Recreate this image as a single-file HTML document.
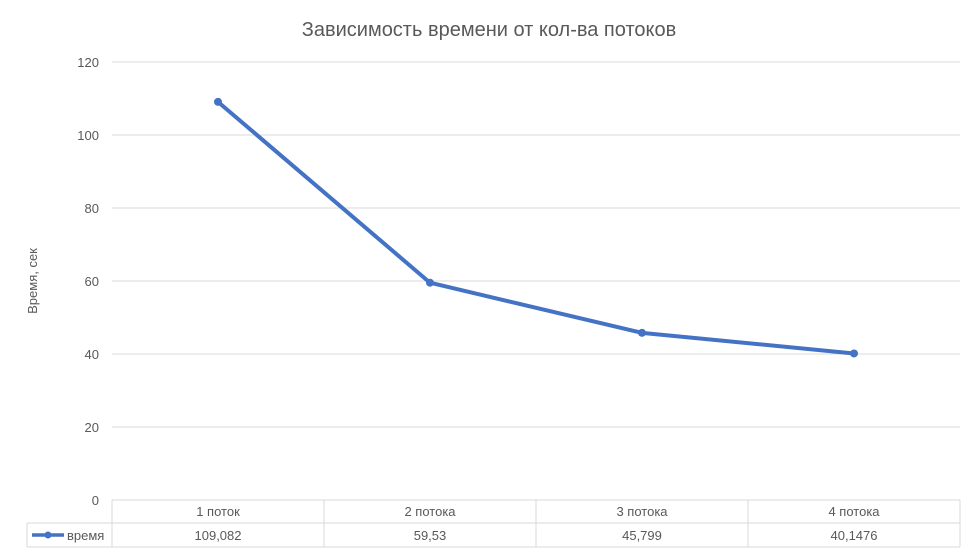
<!DOCTYPE html>
<html><head><meta charset="utf-8"><style>
body{margin:0;background:#fff;width:978px;height:553px;overflow:hidden}
svg{display:block;font-family:"Liberation Sans","DejaVu Sans",sans-serif}
</style></head><body>
<svg id="c" width="978" height="553">
<text x="489" y="36" text-anchor="middle" font-size="20" fill="#595959">Зависимость времени от кол-ва потоков</text>
<text transform="translate(37,281) rotate(-90)" text-anchor="middle" font-size="13" fill="#595959">Время, сек</text>
<g id="grid"></g><g id="yt"></g><g id="tbl"></g><g id="ser"></g>
</svg>
<script>
const categories=["1 поток","2 потока","3 потока","4 потока"];
const values=[109.082,59.53,45.799,40.1476];
const labels=["109,082","59,53","45,799","40,1476"];
const yTicks=[0,20,40,60,80,100,120];
const NS="http://www.w3.org/2000/svg";
const L=112,R=960,T=62,B=500,W=(R-L)/categories.length;
const y=v=>B-(v/120)*(B-T);
const x=i=>L+W*(i+0.5);
function mk(p,t,a){const e=document.createElementNS(NS,t);for(const k in a)e.setAttribute(k,a[k]);document.getElementById(p).appendChild(e);return e;}
yTicks.forEach(v=>{
 if(v>0){const g=mk('grid','line',{x1:L,x2:R,y1:y(v),y2:y(v),stroke:'#d9d9d9'});
 
 }
 const t=mk('yt','text',{x:99,y:y(v)+5,'text-anchor':'end','font-size':13,fill:'#595959'});t.textContent=v;
 
 
});
const r1=500,r2=523,r3=547;
[[L,r1,R,r1],[27,r2,R,r2],[27,r3,R,r3],[27,r2,27,r3]].forEach(a=>{mk('tbl','line',{x1:a[0],y1:a[1],x2:a[2],y2:a[3],stroke:'#d9d9d9'});});
for(let i=0;i<=categories.length;i++){const X=L+W*i;mk('tbl','line',{x1:X,x2:X,y1:r1,y2:r3,stroke:'#d9d9d9'});}
categories.forEach((c,i)=>{
 const t=mk('tbl','text',{x:x(i),y:516,'text-anchor':'middle','font-size':13,fill:'#595959'});t.textContent=c;
 
 
 const d=mk('tbl','text',{x:x(i),y:540,'text-anchor':'middle','font-size':13,fill:'#595959'});d.textContent=labels[i];
 
 
});
const lk=mk('tbl','line',{x1:32,x2:64,y1:535,y2:535,stroke:'#4472c4','stroke-width':3.5});


mk('tbl','circle',{cx:48,cy:535,r:3.5,fill:'#4472c4'});
const lt=mk('tbl','text',{x:67,y:540,'font-size':13,fill:'#595959'});lt.textContent='время';


const ln=mk('ser','polyline',{points:values.map((v,i)=>x(i)+','+y(v)).join(' '),fill:'none',stroke:'#4472c4','stroke-width':4,'stroke-linejoin':'round'});


values.forEach((v,i)=>{const p=mk('ser','circle',{cx:x(i),cy:y(v),r:4,fill:'#4472c4'});
 
 });
</script>
</body></html>
